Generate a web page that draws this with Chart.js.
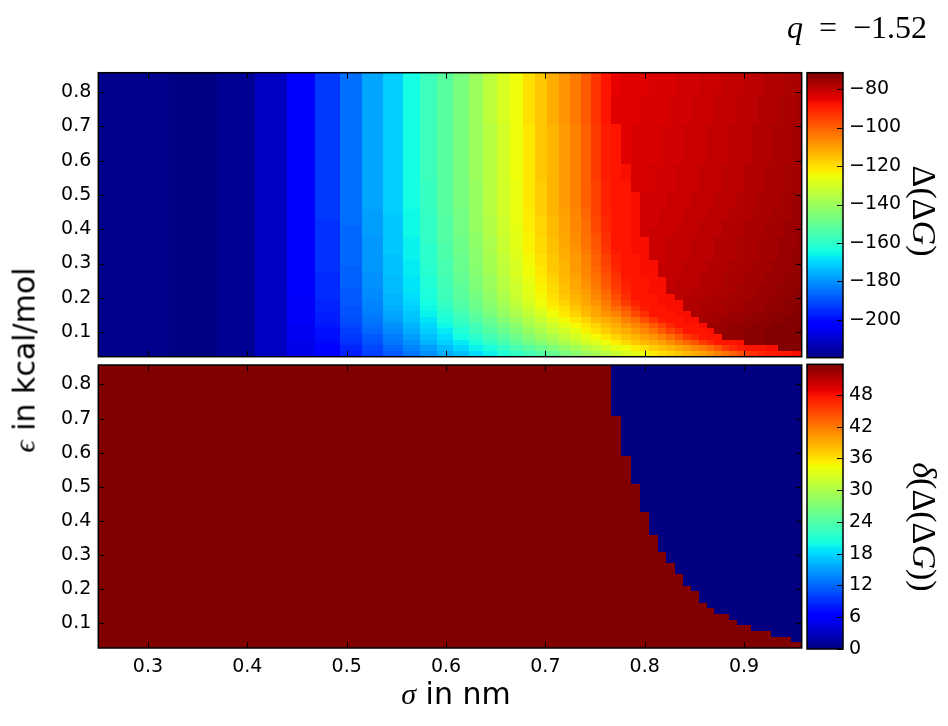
<!DOCTYPE html>
<html>
<head>
<meta charset="utf-8">
<script src="https://cdn.jsdelivr.net/npm/chart.js@4.4.1/dist/chart.umd.min.js"></script>
<style>
  html, body { margin: 0; padding: 0; background: #fff; }
  #page { position: relative; width: 948px; height: 726px; overflow: hidden; background: #fff; }
  #page canvas { position: absolute; left: 0; top: 0; }
  .lbl { position: absolute; white-space: nowrap; color: #000; line-height: 1.164; }
  .sans { font-family: "DejaVu Sans", sans-serif; font-size: 30px; }
  .math { font-family: "Liberation Serif", "DejaVu Serif", serif; }
  .it { font-style: italic; }
</style>
</head>
<body>
<div id="page">
  <canvas id="topMap" width="948" height="726"></canvas>
  <canvas id="bottomMap" width="948" height="726"></canvas>
  <canvas id="topBar" width="948" height="726"></canvas>
  <canvas id="bottomBar" width="948" height="726"></canvas>

  <div class="lbl math" style="right:21px; top:9px; font-size:32px;"><span class="it">q</span>&ensp;=&ensp;−1.52</div>
  <div class="lbl sans" style="left:25px; top:360px; transform:translate(-50%,-50%) rotate(-90deg);"><span class="math it">ϵ</span> in kcal/mol</div>
  <div class="lbl sans" style="left:456px; top:694px; transform:translate(-50%,-50%);"><span class="math it">σ</span> in nm</div>
  <div class="lbl math" style="left:924px; top:211px; font-size:34px; transform:translate(-50%,-50%) rotate(90deg);">Δ(Δ<span class="it">G</span>)</div>
  <div class="lbl math" style="left:924px; top:527px; font-size:34px; transform:translate(-50%,-50%) rotate(90deg);"><span class="it">δ</span>(Δ(Δ<span class="it">G</span>))</div>
</div>
<script>
// sigma cell edges (nm), 50 columns
const sigmaEdges = [0.25, 0.3208, 0.3695, 0.4077, 0.4401, 0.4681, 0.4931, 0.5159, 0.5368, 0.5562,
  0.5743, 0.5914, 0.6075, 0.6228, 0.6374, 0.6514, 0.6647, 0.6776, 0.69, 0.702,
  0.7135, 0.7247, 0.7356, 0.7461, 0.7564, 0.7664, 0.7762, 0.7857, 0.7949, 0.804,
  0.8129, 0.8215, 0.83, 0.8383, 0.8465, 0.8545, 0.8624, 0.8701, 0.8777, 0.8851,
  0.8925, 0.8997, 0.9068, 0.9138, 0.9207, 0.9275, 0.9341, 0.9407, 0.9472, 0.9537, 0.958];
// epsilon cell edges (kcal/mol), 50 rows, lowest first
const epsilonEdges = [0.028, 0.0446, 0.0612, 0.0777, 0.0943, 0.1109, 0.1275, 0.1441, 0.1606, 0.1772,
  0.1938, 0.2104, 0.227, 0.2435, 0.2601, 0.2767, 0.2933, 0.3099, 0.3264, 0.343,
  0.3596, 0.3762, 0.3928, 0.4093, 0.4259, 0.4425, 0.4591, 0.4757, 0.4922, 0.5088,
  0.5254, 0.542, 0.5586, 0.5751, 0.5917, 0.6083, 0.6249, 0.6415, 0.658, 0.6746,
  0.6912, 0.7078, 0.7244, 0.7409, 0.7575, 0.7741, 0.7907, 0.8073, 0.8238, 0.8404, 0.857];

const sigmaTicks = [0.3, 0.4, 0.5, 0.6, 0.7, 0.8, 0.9];
const epsilonTicks = [0.1, 0.2, 0.3, 0.4, 0.5, 0.6, 0.7, 0.8];
const dGTicks = [-200, -180, -160, -140, -120, -100, -80];
const deltaTicks = [0, 6, 12, 18, 24, 30, 36, 42, 48];
const dGRange = [-219.6, -71.5];
const deltaRange = [0, 53.8];

// Δ(ΔG) per epsilon row (lowest epsilon first), one value per sigma column
const dGRows = [
  [-218,-219,-217,-211,-206,-202,-197,-192,-188,-184,-180,-176,-173,-169,-166,-162,-159,-156,-153,-150,-146,-143,-140,-138,-135,-132,-129,-127,-125,-122,-120,-118,-116,-114,-112,-110,-108,-105,-103,-100,-97,-94,-92,-90,-89,-89,-88,-88,-87,-87],
  [-218,-219,-217,-211,-206,-201,-196,-191,-186,-182,-178,-174,-170,-166,-163,-159,-155,-152,-149,-145,-142,-139,-136,-133,-130,-127,-125,-122,-120,-117,-115,-113,-111,-109,-106,-104,-101,-98,-94,-91,-89,-88,-88,-88,-87,-87,-72,-72,-72,-72],
  [-218,-219,-217,-211,-206,-200,-194,-189,-184,-180,-175,-171,-167,-163,-159,-155,-151,-147,-144,-140,-137,-134,-130,-128,-125,-122,-119,-116,-114,-112,-110,-107,-104,-101,-98,-94,-91,-88,-88,-88,-87,-73,-73,-73,-72,-72,-72,-72,-72,-72],
  [-218,-219,-217,-211,-205,-199,-193,-188,-183,-178,-173,-169,-164,-160,-156,-152,-148,-144,-140,-137,-133,-130,-127,-124,-121,-118,-115,-113,-110,-108,-105,-102,-98,-94,-91,-88,-88,-88,-74,-74,-74,-73,-73,-73,-72,-72,-72,-72,-72,-72],
  [-218,-219,-217,-211,-205,-199,-192,-186,-181,-176,-171,-167,-162,-157,-153,-149,-145,-141,-137,-133,-130,-127,-123,-120,-117,-114,-112,-109,-106,-103,-99,-95,-92,-88,-88,-88,-87,-75,-74,-74,-74,-73,-73,-73,-72,-72,-72,-72,-72,-72],
  [-218,-219,-217,-211,-205,-198,-191,-185,-180,-175,-170,-165,-160,-156,-151,-147,-143,-138,-135,-131,-127,-124,-121,-118,-115,-112,-109,-106,-103,-99,-95,-91,-88,-88,-88,-87,-75,-75,-75,-74,-74,-74,-73,-73,-73,-72,-72,-72,-72,-72],
  [-218,-219,-217,-211,-204,-197,-190,-184,-178,-173,-168,-163,-158,-153,-149,-144,-140,-136,-132,-128,-124,-121,-118,-114,-112,-109,-105,-102,-97,-93,-89,-88,-88,-87,-87,-76,-76,-76,-75,-75,-75,-74,-74,-74,-73,-73,-73,-72,-72,-72],
  [-218,-219,-217,-211,-204,-197,-189,-183,-177,-172,-166,-161,-156,-151,-146,-141,-137,-133,-129,-125,-121,-118,-114,-111,-108,-105,-101,-96,-92,-88,-88,-88,-87,-87,-77,-77,-76,-76,-76,-75,-75,-75,-74,-74,-74,-73,-73,-73,-72,-72],
  [-218,-219,-217,-211,-204,-196,-189,-182,-176,-171,-165,-160,-154,-149,-144,-140,-135,-131,-127,-123,-120,-116,-113,-110,-106,-102,-98,-93,-89,-88,-88,-87,-87,-78,-78,-77,-77,-77,-76,-76,-76,-75,-75,-75,-74,-74,-74,-73,-73,-72],
  [-218,-219,-217,-211,-204,-196,-188,-182,-175,-170,-164,-158,-153,-148,-143,-138,-133,-129,-125,-121,-118,-114,-111,-108,-104,-99,-94,-90,-88,-88,-87,-87,-87,-78,-78,-77,-77,-77,-76,-76,-76,-75,-75,-75,-74,-74,-74,-73,-73,-73],
  [-218,-219,-217,-211,-204,-195,-188,-181,-175,-169,-163,-157,-152,-147,-142,-137,-132,-128,-124,-120,-116,-113,-110,-106,-102,-97,-92,-88,-88,-88,-87,-87,-79,-78,-78,-78,-77,-77,-77,-76,-76,-76,-75,-75,-75,-74,-74,-74,-73,-73],
  [-218,-219,-217,-211,-203,-195,-188,-181,-174,-168,-163,-157,-151,-146,-141,-136,-131,-127,-123,-119,-115,-112,-109,-105,-101,-95,-91,-88,-88,-87,-87,-79,-79,-79,-78,-78,-78,-77,-77,-77,-76,-76,-76,-75,-75,-75,-74,-74,-74,-73],
  [-218,-219,-217,-211,-203,-195,-187,-180,-174,-168,-162,-156,-151,-145,-140,-135,-131,-127,-123,-119,-115,-111,-108,-104,-99,-94,-90,-88,-88,-87,-87,-80,-79,-79,-79,-78,-78,-78,-77,-77,-76,-76,-76,-75,-75,-75,-74,-74,-74,-73],
  [-218,-219,-217,-211,-203,-195,-187,-180,-174,-168,-162,-156,-150,-145,-140,-135,-130,-126,-122,-118,-114,-111,-107,-103,-98,-93,-89,-88,-88,-87,-87,-80,-79,-79,-79,-78,-78,-78,-77,-77,-77,-76,-76,-76,-75,-75,-75,-74,-74,-74],
  [-218,-219,-217,-211,-203,-195,-187,-180,-173,-167,-161,-155,-150,-144,-139,-134,-129,-125,-121,-117,-113,-110,-106,-102,-97,-92,-88,-88,-87,-87,-80,-80,-80,-79,-79,-78,-78,-78,-77,-77,-77,-76,-76,-76,-75,-75,-75,-74,-74,-74],
  [-218,-219,-217,-211,-203,-194,-187,-179,-173,-167,-161,-155,-149,-144,-138,-134,-129,-125,-121,-116,-113,-109,-106,-101,-96,-91,-88,-88,-87,-87,-80,-80,-80,-79,-79,-79,-78,-78,-78,-77,-77,-77,-76,-76,-76,-75,-75,-75,-74,-74],
  [-218,-219,-217,-211,-203,-194,-186,-179,-173,-167,-160,-155,-149,-143,-138,-133,-129,-124,-120,-116,-113,-109,-105,-100,-95,-90,-88,-88,-87,-87,-81,-80,-80,-79,-79,-79,-78,-78,-78,-77,-77,-77,-76,-76,-76,-75,-75,-75,-74,-74],
  [-218,-219,-217,-211,-203,-194,-186,-179,-173,-166,-160,-154,-149,-143,-138,-133,-128,-124,-120,-116,-112,-109,-105,-100,-95,-90,-88,-88,-87,-81,-81,-80,-80,-80,-79,-79,-79,-78,-78,-78,-77,-77,-77,-76,-76,-76,-75,-75,-74,-74],
  [-218,-219,-217,-211,-203,-194,-186,-179,-172,-166,-160,-154,-148,-143,-137,-132,-128,-123,-119,-115,-112,-108,-104,-99,-93,-89,-88,-87,-87,-81,-81,-80,-80,-80,-79,-79,-79,-78,-78,-78,-77,-77,-77,-76,-76,-76,-75,-75,-74,-74],
  [-218,-219,-217,-211,-203,-194,-186,-179,-172,-166,-160,-154,-148,-142,-137,-132,-127,-123,-119,-115,-111,-108,-103,-98,-93,-88,-88,-87,-87,-81,-81,-80,-80,-80,-79,-79,-79,-78,-78,-78,-77,-77,-77,-76,-76,-76,-75,-75,-75,-74],
  [-218,-219,-217,-211,-203,-194,-186,-179,-172,-166,-159,-153,-148,-142,-137,-132,-127,-123,-119,-115,-111,-107,-103,-98,-92,-88,-88,-87,-87,-81,-81,-80,-80,-80,-79,-79,-79,-78,-78,-78,-77,-77,-77,-76,-76,-76,-75,-75,-75,-74],
  [-218,-219,-217,-211,-203,-194,-186,-178,-172,-165,-159,-153,-147,-142,-136,-131,-127,-123,-118,-114,-111,-107,-102,-97,-92,-88,-88,-87,-82,-81,-81,-81,-80,-80,-80,-79,-79,-79,-78,-78,-78,-77,-77,-77,-76,-76,-76,-75,-75,-74],
  [-218,-219,-217,-211,-203,-194,-186,-178,-172,-165,-159,-153,-147,-141,-136,-131,-127,-122,-118,-114,-110,-106,-102,-96,-91,-88,-88,-87,-82,-81,-81,-81,-80,-80,-80,-79,-79,-79,-78,-78,-78,-77,-77,-77,-76,-76,-76,-75,-75,-75],
  [-218,-219,-217,-211,-203,-194,-185,-178,-172,-165,-159,-153,-147,-141,-136,-131,-126,-122,-118,-114,-110,-106,-102,-96,-91,-88,-88,-87,-82,-82,-81,-81,-81,-80,-80,-79,-79,-79,-78,-78,-78,-77,-77,-77,-76,-76,-76,-75,-75,-75],
  [-218,-219,-217,-211,-203,-193,-185,-178,-172,-165,-159,-153,-147,-141,-136,-131,-126,-122,-118,-114,-110,-106,-101,-96,-91,-88,-88,-87,-82,-82,-81,-81,-81,-80,-80,-80,-79,-79,-79,-78,-78,-78,-77,-77,-77,-76,-76,-76,-75,-75],
  [-218,-219,-217,-211,-203,-193,-185,-178,-171,-165,-158,-152,-147,-141,-135,-130,-126,-122,-117,-113,-110,-106,-101,-95,-90,-88,-88,-87,-82,-82,-81,-81,-81,-80,-80,-80,-79,-79,-79,-78,-78,-78,-77,-77,-77,-76,-76,-76,-75,-75],
  [-218,-219,-217,-211,-203,-193,-185,-177,-171,-164,-158,-152,-146,-141,-135,-130,-126,-121,-117,-113,-109,-105,-100,-95,-90,-88,-88,-87,-82,-82,-82,-81,-81,-81,-80,-80,-80,-79,-79,-79,-78,-78,-78,-77,-77,-77,-76,-76,-75,-75],
  [-218,-219,-217,-211,-203,-193,-185,-177,-171,-164,-158,-152,-146,-141,-135,-130,-126,-121,-117,-113,-109,-105,-100,-95,-90,-88,-88,-87,-82,-82,-82,-81,-81,-81,-80,-80,-80,-79,-79,-79,-78,-78,-78,-77,-77,-77,-76,-76,-75,-75],
  [-218,-219,-217,-211,-203,-193,-185,-177,-171,-164,-158,-152,-146,-141,-135,-130,-126,-121,-117,-113,-109,-105,-100,-95,-90,-88,-88,-87,-82,-82,-82,-81,-81,-81,-80,-80,-80,-79,-79,-79,-78,-78,-78,-77,-77,-77,-76,-76,-75,-75],
  [-218,-219,-217,-211,-203,-193,-185,-177,-171,-164,-158,-152,-146,-141,-135,-130,-126,-121,-117,-113,-109,-105,-100,-95,-90,-88,-88,-83,-83,-82,-82,-82,-81,-81,-81,-80,-80,-80,-79,-79,-79,-78,-78,-78,-77,-77,-77,-76,-76,-76],
  [-218,-219,-217,-211,-203,-193,-185,-177,-171,-164,-158,-152,-146,-141,-135,-130,-126,-121,-117,-113,-109,-105,-100,-95,-90,-88,-88,-83,-83,-82,-82,-82,-81,-81,-81,-80,-80,-80,-79,-79,-79,-78,-78,-78,-77,-77,-77,-76,-76,-76],
  [-218,-219,-217,-211,-203,-193,-185,-177,-171,-164,-157,-152,-146,-140,-135,-130,-125,-121,-116,-113,-109,-105,-100,-94,-89,-88,-87,-83,-83,-82,-82,-82,-81,-81,-81,-80,-80,-80,-79,-79,-79,-78,-78,-78,-77,-77,-77,-76,-76,-76],
  [-218,-219,-217,-211,-203,-193,-185,-177,-171,-164,-157,-152,-146,-140,-135,-130,-125,-121,-116,-113,-109,-105,-100,-94,-89,-88,-87,-83,-83,-82,-82,-82,-81,-81,-81,-80,-80,-80,-79,-79,-79,-78,-78,-78,-77,-77,-77,-76,-76,-76],
  [-218,-219,-217,-211,-203,-193,-185,-177,-171,-164,-157,-152,-146,-140,-135,-130,-125,-121,-116,-113,-109,-105,-100,-94,-89,-88,-87,-83,-83,-82,-82,-82,-81,-81,-81,-80,-80,-80,-79,-79,-79,-78,-78,-78,-77,-77,-77,-76,-76,-76],
  [-218,-219,-217,-211,-203,-193,-185,-177,-171,-164,-157,-152,-146,-140,-135,-130,-125,-121,-116,-113,-109,-105,-100,-94,-89,-88,-84,-83,-83,-83,-82,-82,-82,-81,-81,-81,-80,-80,-80,-79,-79,-79,-78,-78,-78,-77,-77,-77,-76,-76],
  [-218,-219,-217,-211,-203,-193,-185,-177,-171,-164,-157,-152,-146,-140,-135,-130,-125,-121,-116,-113,-109,-105,-100,-94,-89,-88,-84,-83,-83,-83,-82,-82,-82,-81,-81,-81,-80,-80,-80,-79,-79,-79,-78,-78,-78,-77,-77,-77,-76,-76],
  [-218,-219,-217,-211,-203,-193,-185,-177,-171,-164,-157,-152,-146,-140,-135,-130,-125,-121,-116,-113,-109,-105,-100,-94,-89,-88,-84,-83,-83,-83,-82,-82,-82,-81,-81,-81,-80,-80,-80,-79,-79,-79,-78,-78,-78,-77,-77,-77,-76,-76],
  [-218,-219,-217,-211,-203,-193,-185,-177,-171,-164,-157,-152,-146,-140,-135,-130,-125,-121,-116,-113,-109,-105,-100,-94,-89,-88,-84,-83,-83,-83,-82,-82,-82,-81,-81,-81,-80,-80,-80,-79,-79,-79,-78,-78,-78,-77,-77,-77,-76,-76],
  [-218,-219,-217,-211,-203,-193,-185,-177,-171,-164,-157,-152,-146,-140,-135,-130,-125,-121,-116,-113,-109,-105,-100,-94,-89,-88,-84,-83,-83,-83,-82,-82,-82,-81,-81,-81,-80,-80,-80,-79,-79,-79,-78,-78,-78,-77,-77,-77,-76,-76],
  [-218,-219,-217,-211,-203,-193,-185,-177,-171,-164,-157,-152,-146,-140,-135,-130,-125,-121,-116,-113,-109,-105,-100,-94,-89,-88,-84,-83,-83,-83,-82,-82,-82,-81,-81,-81,-80,-80,-80,-79,-79,-79,-78,-78,-78,-77,-77,-77,-76,-76],
  [-218,-219,-217,-211,-203,-193,-185,-177,-171,-164,-157,-152,-146,-140,-135,-130,-125,-121,-116,-113,-109,-105,-100,-94,-89,-88,-84,-83,-83,-83,-82,-82,-82,-81,-81,-81,-80,-80,-80,-79,-79,-79,-78,-78,-78,-77,-77,-77,-76,-76],
  [-218,-219,-217,-211,-203,-193,-185,-177,-171,-164,-157,-152,-146,-140,-134,-129,-125,-120,-116,-112,-108,-104,-99,-93,-88,-84,-84,-84,-83,-83,-83,-82,-82,-82,-81,-81,-81,-80,-80,-80,-79,-79,-79,-78,-78,-78,-77,-77,-77,-76],
  [-218,-219,-217,-211,-203,-193,-185,-177,-171,-164,-157,-152,-146,-140,-134,-129,-125,-120,-116,-112,-108,-104,-99,-93,-88,-84,-84,-84,-83,-83,-83,-82,-82,-82,-81,-81,-81,-80,-80,-80,-79,-79,-79,-78,-78,-78,-77,-77,-77,-76],
  [-218,-219,-217,-211,-203,-193,-185,-177,-171,-164,-157,-152,-146,-140,-134,-129,-125,-120,-116,-112,-108,-104,-99,-93,-88,-84,-84,-84,-83,-83,-83,-82,-82,-82,-81,-81,-81,-80,-80,-80,-79,-79,-79,-78,-78,-78,-77,-77,-77,-76],
  [-218,-219,-217,-211,-203,-193,-185,-177,-171,-164,-157,-152,-146,-140,-134,-129,-125,-120,-116,-112,-108,-104,-99,-93,-88,-84,-84,-84,-83,-83,-83,-82,-82,-82,-81,-81,-81,-80,-80,-80,-79,-79,-79,-78,-78,-78,-77,-77,-77,-76],
  [-218,-219,-217,-211,-203,-193,-185,-177,-171,-164,-157,-152,-146,-140,-134,-129,-125,-120,-116,-112,-108,-104,-99,-93,-88,-84,-84,-84,-83,-83,-83,-82,-82,-82,-81,-81,-81,-80,-80,-80,-79,-79,-79,-78,-78,-78,-77,-77,-77,-76],
  [-218,-219,-217,-211,-203,-193,-185,-177,-171,-164,-157,-152,-146,-140,-134,-129,-125,-120,-116,-112,-108,-104,-99,-93,-88,-85,-84,-84,-84,-83,-83,-83,-82,-82,-82,-81,-81,-81,-80,-80,-80,-79,-79,-79,-78,-78,-78,-77,-77,-77],
  [-218,-219,-217,-211,-203,-193,-185,-177,-171,-164,-157,-152,-146,-140,-134,-129,-125,-120,-116,-112,-108,-104,-99,-93,-88,-85,-84,-84,-84,-83,-83,-83,-82,-82,-82,-81,-81,-81,-80,-80,-80,-79,-79,-79,-78,-78,-78,-77,-77,-77],
  [-218,-219,-217,-211,-203,-193,-185,-177,-171,-164,-157,-152,-146,-140,-134,-129,-125,-120,-116,-112,-108,-104,-99,-93,-88,-85,-84,-84,-84,-83,-83,-83,-82,-82,-82,-81,-81,-81,-80,-80,-80,-79,-79,-79,-78,-78,-78,-77,-77,-77],
  [-218,-219,-217,-211,-203,-193,-185,-177,-171,-164,-157,-152,-146,-140,-134,-129,-125,-120,-116,-112,-108,-104,-99,-93,-88,-85,-84,-84,-84,-83,-83,-83,-82,-82,-82,-81,-81,-81,-80,-80,-80,-79,-79,-79,-78,-78,-78,-77,-77,-77]
];

// δ(Δ(ΔG)): first sigma column that drops to zero, per epsilon row (lowest first)
const deltaZeroFrom = [50, 48, 45, 42, 40, 39, 37, 36, 35, 35, 34, 33, 33, 32, 32, 31, 31, 30, 30, 30,
  29, 29, 29, 29, 28, 28, 28, 28, 28, 27, 27, 27, 27, 27, 26, 26, 26, 26, 26, 26,
  26, 25, 25, 25, 25, 25, 25, 25, 25, 25];
const deltaHigh = 53.8;

const W = 948, H = 726;
const tickFont = { family: "'DejaVu Sans', sans-serif", size: 19 };

const jetStops = {
  r: [[0, 0], [0.35, 0], [0.66, 1], [0.89, 1], [1, 0.5]],
  g: [[0, 0], [0.125, 0], [0.375, 1], [0.64, 1], [0.91, 0], [1, 0]],
  b: [[0, 0.5], [0.11, 1], [0.34, 1], [0.65, 0], [1, 0]]
};

function channel(stops, t) {
  for (let i = 1; i < stops.length; i++) {
    if (t <= stops[i][0]) {
      const [x0, y0] = stops[i - 1];
      const [x1, y1] = stops[i];
      return y0 + (y1 - y0) * (t - x0) / (x1 - x0);
    }
  }
  return stops[stops.length - 1][1];
}

function jet(t) {
  t = Math.min(1, Math.max(0, t));
  const c = (s) => Math.round(255 * channel(s, t));
  return `rgb(${c(jetStops.r)},${c(jetStops.g)},${c(jetStops.b)})`;
}

function cellPlugin(rows, range) {
  return {
    id: "cells",
    beforeDatasetsDraw(chart) {
      const { ctx, chartArea: a, scales: { x, y } } = chart;
      ctx.save();
      ctx.beginPath();
      ctx.rect(a.left, a.top, a.width, a.height);
      ctx.clip();
      rows.forEach((row, r) => {
        const yb = Math.round(y.getPixelForValue(epsilonEdges[r]));
        const yt = Math.round(y.getPixelForValue(epsilonEdges[r + 1]));
        row.forEach((v, c) => {
          const xl = Math.round(x.getPixelForValue(sigmaEdges[c]));
          const xr = Math.round(x.getPixelForValue(sigmaEdges[c + 1]));
          ctx.fillStyle = jet((v - range[0]) / (range[1] - range[0]));
          ctx.fillRect(xl, yt, xr - xl, yb - yt);
        });
      });
      ctx.restore();
    }
  };
}

function stripPlugin(range) {
  return {
    id: "strip",
    beforeDatasetsDraw(chart) {
      const { ctx, chartArea: a, scales: { y } } = chart;
      const n = 256;
      for (let i = 0; i < n; i++) {
        const p0 = y.getPixelForValue(range[0] + (range[1] - range[0]) * i / n);
        const p1 = y.getPixelForValue(range[0] + (range[1] - range[0]) * (i + 1) / n);
        ctx.fillStyle = jet((i + 0.5) / n);
        ctx.fillRect(a.left, Math.floor(p1), a.width, Math.ceil(p0) - Math.floor(p1));
      }
    }
  };
}

function framePlugin(isMap) {
  return {
    id: "frame",
    afterDraw(chart) {
      const { ctx, chartArea: a, scales } = chart;
      const len = 6;
      ctx.save();
      ctx.strokeStyle = "#000";
      ctx.lineWidth = 1;
      ctx.beginPath();
      if (isMap) {
        scales.x.ticks.forEach(({ value }) => {
          const px = Math.round(scales.x.getPixelForValue(value)) + 0.5;
          ctx.moveTo(px, a.top); ctx.lineTo(px, a.top + len);
          ctx.moveTo(px, a.bottom); ctx.lineTo(px, a.bottom - len);
        });
      }
      scales.y.ticks.forEach(({ value }) => {
        const py = Math.round(scales.y.getPixelForValue(value)) + 0.5;
        if (isMap) { ctx.moveTo(a.left, py); ctx.lineTo(a.left + len, py); }
        ctx.moveTo(a.right, py); ctx.lineTo(a.right - len, py);
      });
      ctx.stroke();
      ctx.lineWidth = 1.5;
      ctx.strokeRect(a.left, a.top, a.width, a.height);
      ctx.restore();
    }
  };
}

function heatmapChart(id, rows, range, box, showX) {
  const xAxisHeight = showX ? 40 : 0;
  return new Chart(document.getElementById(id), {
    type: "scatter",
    data: { datasets: [] },
    options: {
      responsive: false,
      animation: false,
      devicePixelRatio: 1,
      events: [],
      layout: { padding: { left: box.left - 60, right: W - box.right, top: box.top, bottom: H - box.bottom - xAxisHeight } },
      plugins: { legend: { display: false }, tooltip: { enabled: false } },
      scales: {
        x: {
          type: "linear",
          min: sigmaEdges[0],
          max: sigmaEdges[sigmaEdges.length - 1],
          grid: { display: false, drawTicks: false },
          border: { display: false },
          afterBuildTicks: (s) => { s.ticks = sigmaTicks.map((value) => ({ value })); },
          ticks: { display: showX, padding: 8, color: "#000", font: tickFont, maxRotation: 0, autoSkip: false, callback: (v) => v.toFixed(1) },
          afterFit: (s) => { s.height = xAxisHeight; }
        },
        y: {
          type: "linear",
          min: epsilonEdges[0],
          max: epsilonEdges[epsilonEdges.length - 1],
          grid: { display: false, drawTicks: false },
          border: { display: false },
          afterBuildTicks: (s) => { s.ticks = epsilonTicks.map((value) => ({ value })); },
          ticks: { padding: 7, color: "#000", font: tickFont, autoSkip: false, callback: (v) => v.toFixed(1) },
          afterFit: (s) => { s.width = 60; }
        }
      }
    },
    plugins: [cellPlugin(rows, range), framePlugin(true)]
  });
}

function colorbarChart(id, range, ticks, box) {
  return new Chart(document.getElementById(id), {
    type: "scatter",
    data: { datasets: [] },
    options: {
      responsive: false,
      animation: false,
      devicePixelRatio: 1,
      events: [],
      layout: { padding: { left: box.left, right: W - box.right - 70, top: box.top, bottom: H - box.bottom } },
      plugins: { legend: { display: false }, tooltip: { enabled: false } },
      scales: {
        x: { type: "linear", display: false, min: 0, max: 1 },
        y: {
          type: "linear",
          position: "right",
          min: range[0],
          max: range[1],
          grid: { display: false, drawTicks: false },
          border: { display: false },
          afterBuildTicks: (s) => { s.ticks = ticks.map((value) => ({ value })); },
          ticks: { padding: 6, color: "#000", font: tickFont, autoSkip: false, callback: (v) => (v < 0 ? "\u2212" : "") + Math.abs(v) },
          afterFit: (s) => { s.width = 70; }
        }
      }
    },
    plugins: [stripPlugin(range), framePlugin(false)]
  });
}

const deltaRows = deltaZeroFrom.map((k) => dGRows[0].map((_, c) => (c < k ? deltaHigh : 0)));

heatmapChart("topMap", dGRows, dGRange, { left: 98.3, right: 801.7, top: 72.7, bottom: 356.7 }, false);
heatmapChart("bottomMap", deltaRows, deltaRange, { left: 98.3, right: 801.7, top: 365, bottom: 648 }, true);
colorbarChart("topBar", dGRange, dGTicks, { left: 807, right: 843, top: 72.7, bottom: 357.7 });
colorbarChart("bottomBar", deltaRange, deltaTicks, { left: 807, right: 843, top: 364.3, bottom: 649 });
</script>
</body>
</html>
